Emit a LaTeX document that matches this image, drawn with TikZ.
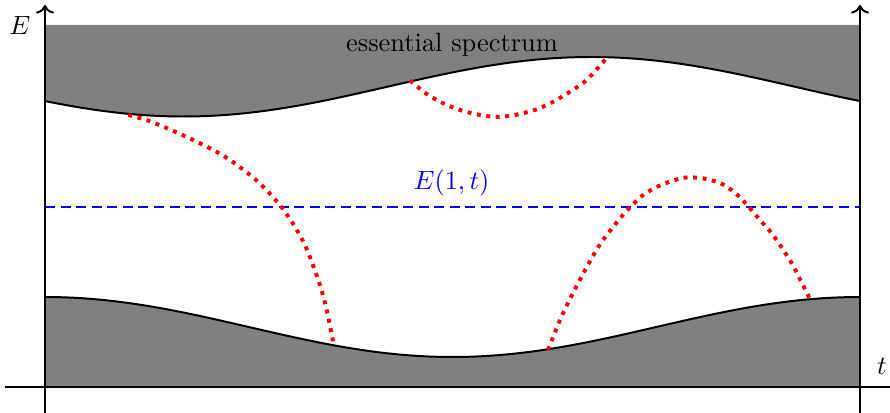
\documentclass[tikz,border=0pt]{standalone}
\usetikzlibrary{arrows.meta}
\begin{document}
\begin{tikzpicture}[x=0.379pt,y=-0.379pt,
  axis/.style={line width=0.75pt},
  band/.style={fill=gray},
  edge/.style={line width=0.75pt},
  eigen/.style={red,line width=1.5pt,dash pattern=on 1.5pt off 2.1pt},
  level/.style={blue,line width=1pt,dash pattern=on 3.8pt off 2.1pt},
  lbl/.style={inner sep=0pt,anchor=base}]
\useasboundingbox (0,0) rectangle (890,413);
% spectrum bands
\fill[band] (45,25) -- plot[domain=45:860,samples=120] (\x,{86.75+29.75*cos(360*((\x-45)/815-0.17))}) -- (860,25) -- cycle;
\fill[band] (45,387) -- plot[domain=45:860,samples=120] (\x,{327-30*cos(360*((\x-45)/815))}) -- (860,387) -- cycle;
\draw[edge] plot[domain=45:860,samples=120] (\x,{86.75+29.75*cos(360*((\x-45)/815-0.17))});
\draw[edge] plot[domain=45:860,samples=120] (\x,{327-30*cos(360*((\x-45)/815))});
% level line
\draw[level] (45,207) -- (860,207);
% eigenvalue curves
\draw[eigen] plot[smooth] coordinates {(128.3,115) (148.3,120.7) (175,131.7) (200,143.3) (226,157.3) (256,180) (281.7,207.3) (303.3,241.7) (318.3,280) (326.7,310) (333.5,344)};
\draw[eigen] plot[smooth] coordinates {(410,80.5) (426.7,94) (443.3,103.3) (460,110) (480,115) (499,117) (518.3,114.3) (536.7,109.3) (553.3,101.7) (570,91.7) (586.7,80) (607,57.5)};
\draw[eigen] plot[smooth] coordinates {(548,350) (560,320) (572.3,294.3) (585.7,269) (600,244.3) (617.3,221.7) (630,207.3) (644,194.3) (661,185) (678.3,179) (689,177.3) (706.7,179) (724,185) (740,197.3) (760,220) (771.7,233.3) (783.3,250) (793.3,266) (801.7,282.7) (810,299)};
% axes
\coordinate (l0) at (45,413);
\coordinate (l1) at (45,5);
\coordinate (r0) at (860,413);
\coordinate (r1) at (860,5);
\coordinate (h0) at (5,387);
\coordinate (h1) at (890,387);
\draw[axis,->] (l0) -- (l1);
\draw[axis,->] (r0) -- (r1);
\draw[axis] (h0) -- (h1);
% labels
\node[lbl] (ess) at (452,51.5) {essential spectrum};
\node[lbl,blue] (elev) at (451.5,190) {$E(1,t)$};
\node[lbl] (elab) at (20,35) {$E$};
\node[lbl] (tlab) at (882,375) {$t$};
\end{tikzpicture}
\end{document}
